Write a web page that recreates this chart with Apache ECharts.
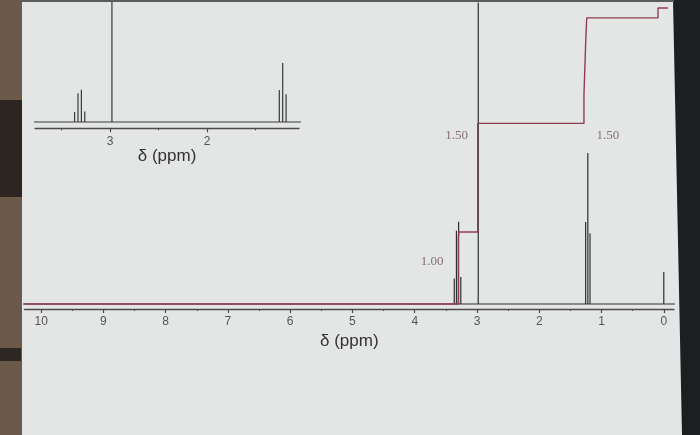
<!DOCTYPE html>
<html><head><meta charset="utf-8">
<script src="https://cdn.jsdelivr.net/npm/echarts@6/dist/echarts.min.js"></script>
<style>html,body{margin:0;padding:0;background:#e4e6e5}#c{width:700px;height:435px}</style>
</head><body><div id="c"></div>
<script>
// ---- data ----
const peakShifts  = [3.365, 3.33, 3.295, 3.26, 2.98, 1.255, 1.22, 1.185, 0.00];
const peakHeights = [8.5, 24.5, 27.5, 9.0, 110, 27.4, 50.5, 23.7, 10.7];
const integralShifts = [10.27, 3.30, 3.30, 3.289, 3.289, 2.989, 2.989, 1.282, 1.282, 1.254, 1.254, 1.238, 1.238, 0.093, 0.093, -0.067];
const integralLevels = [0, 0, 22.5, 22.5, 24.1, 24.1, 60.4, 60.4, 69.9, 69.9, 87.6, 87.6, 95.7, 95.7, 99.0, 99.0];
const integralLabels = ['1.00', '1.50', '1.50'];
const labelShifts = [3.722, 3.329, 0.896];
const labelLevels = [14.2, 56.4, 56.4];
const mainTicks = [0, 1, 2, 3, 4, 5, 6, 7, 8, 9, 10];
const mainMinorTicks = [0.5, 1.5, 2.5, 3.5, 4.5, 5.5, 6.5, 7.5, 8.5, 9.5];
const insetTicks = [2, 3];
const insetMinorTicks = [1.5, 2.5, 3.5];
const axisName = 'δ (ppm)';

// build stick spectrum polyline
function stickData() {
  const idx = peakShifts.map((s, i) => i).sort((a, b) => peakShifts[b] - peakShifts[a]);
  const d = [[10.4, 0]];
  idx.forEach(i => { d.push([peakShifts[i], 0], [peakShifts[i], peakHeights[i]], [peakShifts[i], 0]); });
  d.push([-0.3, 0]);
  return d;
}
const spec = stickData();
const integral = integralShifts.map((s, i) => [s, integralLevels[i]]);
const labels = labelShifts.map((s, i) => ({ value: [s, labelLevels[i]], name: integralLabels[i] }));

const axisCol = '#4a4a4a';
function majorAxis(grid, min, max, ticks, nameText, gap) {
  return {
    type: 'value', gridIndex: grid, position: 'bottom', inverse: true, min: min, max: max,
    splitLine: { show: false },
    axisLine: { show: true, onZero: false, lineStyle: { color: axisCol, width: 1.3 } },
    axisTick: { show: true, length: 4, customValues: ticks, lineStyle: { color: axisCol, width: 1.2 } },
    axisLabel: { show: true, customValues: ticks, margin: 7, color: '#555', fontSize: 12, fontFamily: 'Liberation Sans' },
    name: nameText, nameLocation: 'middle', nameGap: gap,
    nameTextStyle: { color: '#333', fontSize: 17, fontFamily: 'Liberation Sans' }
  };
}
function minorAxis(grid, min, max, ticks) {
  return {
    type: 'value', gridIndex: grid, position: 'bottom', inverse: true, min: min, max: max,
    splitLine: { show: false },
    axisLine: { show: false, onZero: false },
    axisTick: { show: true, length: 2, customValues: ticks, lineStyle: { color: axisCol, width: 1 } },
    axisLabel: { show: false }
  };
}

const chart = echarts.init(document.getElementById('c'), null, { renderer: 'canvas' });
chart.setOption({
  backgroundColor: '#e4e6e5',
  animation: false,
  grid: [
    { left: 24.5, right: 26, top: 3, bottom: 126 },
    { left: 35, right: 401, top: 0, bottom: 306.7 }
  ],
  xAxis: [
    majorAxis(0, -0.164, 10.267, mainTicks, axisName, 17),
    minorAxis(0, -0.164, 10.267, mainMinorTicks),
    majorAxis(1, 1.052, 3.773, insetTicks, axisName, 18),
    minorAxis(1, 1.052, 3.773, insetMinorTicks)
  ],
  yAxis: [
    { type: 'value', gridIndex: 0, min: -1.67, max: 100.67, show: false },
    { type: 'value', gridIndex: 1, min: -5.4, max: 104.4, show: false }
  ],
  graphic: [
    { type: 'rect', shape: { x: 0, y: 0, width: 22, height: 435 }, style: { fill: '#6b5949' }, z: 100 },
    { type: 'rect', shape: { x: 0, y: 100, width: 22, height: 97 }, style: { fill: '#2c2520' }, z: 101 },
    { type: 'rect', shape: { x: 0, y: 348, width: 21, height: 13 }, style: { fill: '#2e2823' }, z: 101 },
    { type: 'polygon', shape: { points: [[673, 0], [700, 0], [700, 435], [682, 435]] }, style: { fill: '#1d1e21' }, z: 100 },
    { type: 'rect', shape: { x: 22, y: 0, width: 652, height: 2 }, style: { fill: '#5a5c5c' }, z: 100 }
  ],
  series: [
    { type: 'line', xAxisIndex: 0, yAxisIndex: 0, data: spec, showSymbol: false, symbol: 'none', clip: true,
      lineStyle: { color: '#2e2e30', width: 1.2 }, z: 2 },
    { type: 'line', xAxisIndex: 0, yAxisIndex: 0, data: integral, showSymbol: false, symbol: 'none', clip: true,
      lineStyle: { color: '#8e3e4e', width: 1.4 }, z: 3 },
    { type: 'scatter', xAxisIndex: 0, yAxisIndex: 0, data: labels, symbolSize: 0, z: 4,
      label: { show: true, position: 'inside', formatter: p => p.name, color: '#6e5058', fontSize: 13, fontFamily: 'Liberation Serif' } },
    { type: 'line', xAxisIndex: 2, yAxisIndex: 1, data: spec, showSymbol: false, symbol: 'none', clip: true,
      lineStyle: { color: '#3a3a3c', width: 1.2 }, z: 2 }
  ]
});
</script>
</body></html>
